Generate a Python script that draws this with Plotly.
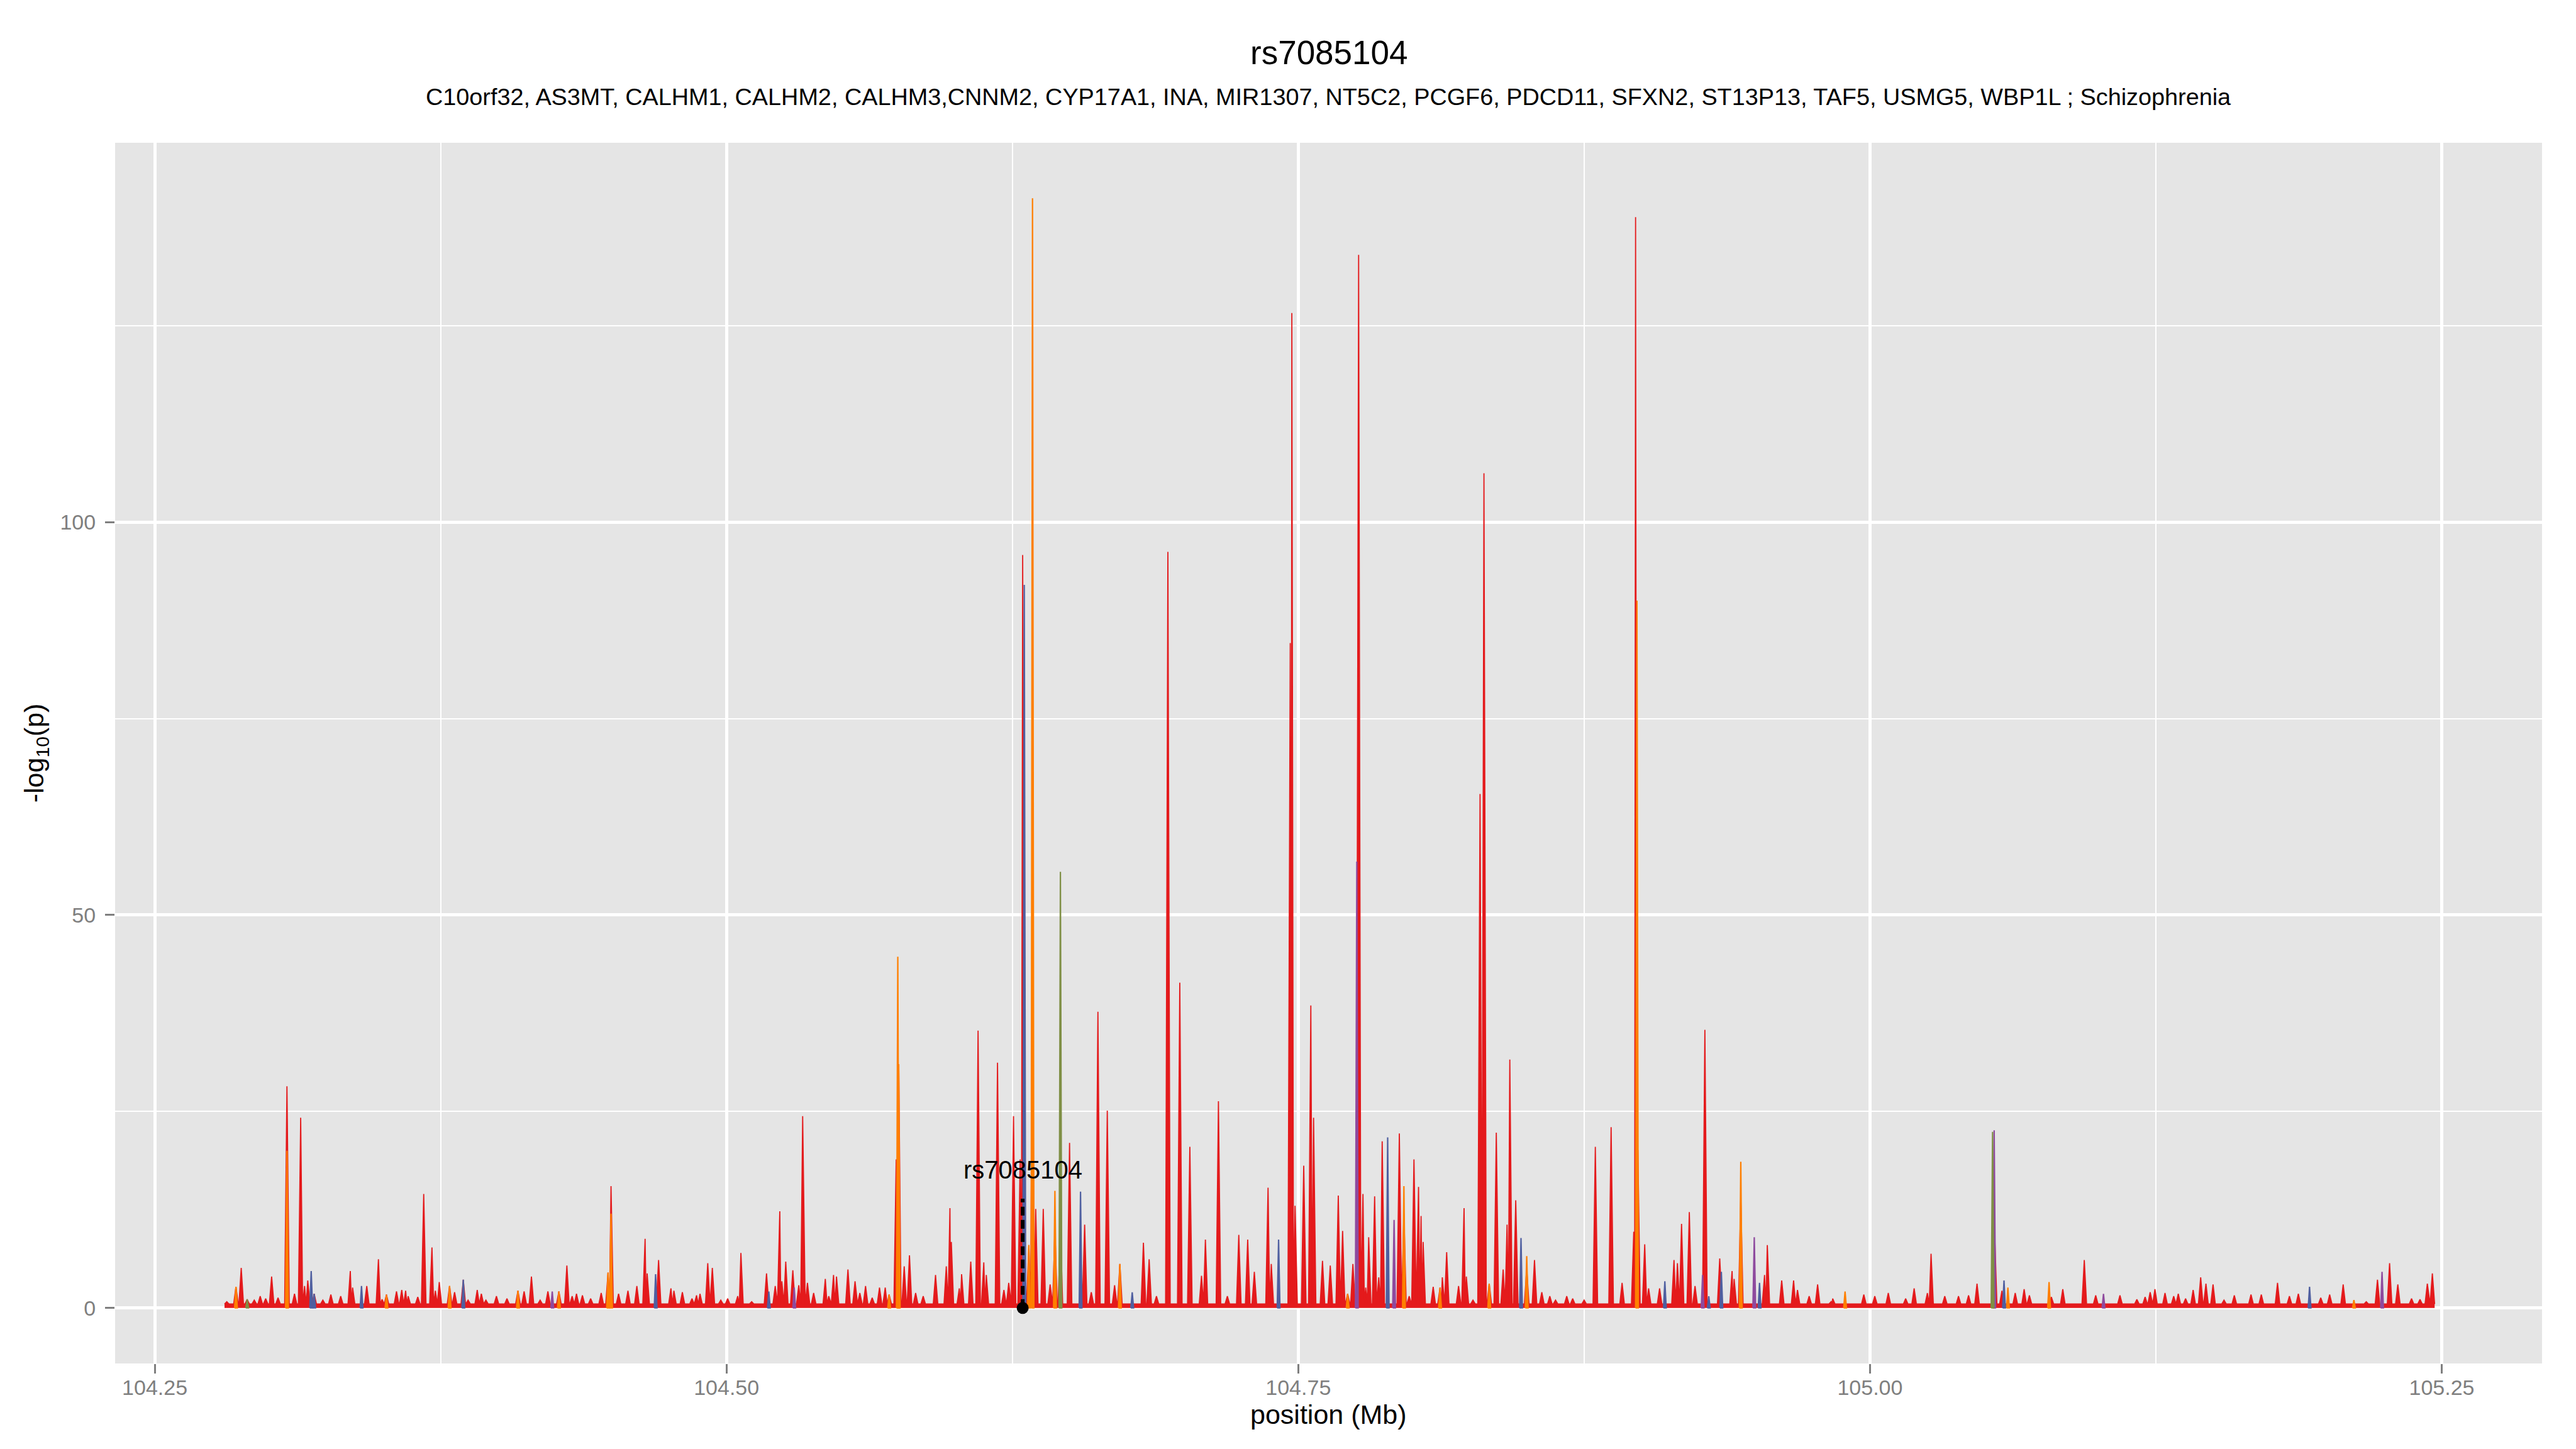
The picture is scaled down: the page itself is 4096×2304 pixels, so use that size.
import plotly.graph_objects as go

# ---------------- data ----------------
# Position (Mb) and -log10(p) of SNP peaks drawn in the main (red) series
red_pos = [
    104.2815, 104.2855, 104.2878, 104.2904, 104.2935, 104.2961, 104.2985, 104.3011, 104.3039, 104.3078,
    104.3111, 104.3138, 104.3155, 104.3169, 104.3197, 104.3235, 104.3270, 104.3313, 104.3355, 104.3365,
    104.3427, 104.3478, 104.3494, 104.3513, 104.3557, 104.3580, 104.3597, 104.3608, 104.3650, 104.3676,
    104.3712, 104.3727, 104.3744, 104.3789, 104.3811, 104.3849, 104.3870, 104.3910, 104.3928, 104.3948,
    104.3994, 104.4040, 104.4088, 104.4115, 104.4147, 104.4185, 104.4219, 104.4267, 104.4302, 104.4325,
    104.4344, 104.4370, 104.4406, 104.4452, 104.4482, 104.4495, 104.4528, 104.4569, 104.4608, 104.4644,
    104.4653, 104.4703, 104.4757, 104.4770, 104.4807, 104.4849, 104.4869, 104.4884, 104.4918, 104.4938,
    104.4975, 104.5005, 104.5049, 104.5063, 104.5110, 104.5175, 104.5213, 104.5233, 104.5242, 104.5259,
    104.5290, 104.5316, 104.5333, 104.5354, 104.5381, 104.5432, 104.5447, 104.5468, 104.5481, 104.5531,
    104.5562, 104.5583, 104.5608, 104.5637, 104.5669, 104.5694, 104.5711, 104.5742, 104.5749, 104.5753,
    104.5777, 104.5800, 104.5827, 104.5860, 104.5914, 104.5961, 104.5977, 104.5983, 104.6018, 104.6028,
    104.6068, 104.6100, 104.6125, 104.6136, 104.6185, 104.6213, 104.6234, 104.6255, 104.6284, 104.6295,
    104.6322, 104.6338, 104.6352, 104.6385, 104.6415, 104.6436, 104.6460, 104.6500, 104.6566, 104.6595,
    104.6624, 104.6665, 104.6697, 104.6720, 104.6823, 104.6848, 104.6880, 104.6930, 104.6982, 104.7026,
    104.7077, 104.7094, 104.7151, 104.7190, 104.7240, 104.7279, 104.7308, 104.7368, 104.7382, 104.7465,
    104.7472, 104.7486, 104.7524, 104.7555, 104.7567, 104.7606, 104.7640, 104.7675, 104.7694, 104.7716,
    104.7739, 104.7764, 104.7783, 104.7795, 104.7808, 104.7834, 104.7852, 104.7867, 104.7942, 104.7962,
    104.7985, 104.8006, 104.8026, 104.8037, 104.8046, 104.8090, 104.8120, 104.8130, 104.8149, 104.8201,
    104.8225, 104.8235, 104.8264, 104.8295, 104.8312, 104.8335, 104.8366, 104.8396, 104.8413, 104.8425,
    104.8451, 104.8499, 104.8533, 104.8565, 104.8600, 104.8625, 104.8674, 104.8700, 104.8750, 104.8799,
    104.8868, 104.8916, 104.8967, 104.8975, 104.8985, 104.9015, 104.9032, 104.9080, 104.9143, 104.9158,
    104.9176, 104.9210, 104.9235, 104.9278, 104.9343, 104.9397, 104.9406, 104.9435, 104.9539, 104.9551,
    104.9614, 104.9666, 104.9683, 104.9734, 104.9771, 104.9830, 104.9837, 104.9973, 105.0021, 105.0080,
    105.0156, 105.0193, 105.0251, 105.0267, 105.0327, 105.0387, 105.0431, 105.0468, 105.0545, 105.0577,
    105.0635, 105.0674, 105.0697, 105.0793, 105.0843, 105.0937, 105.0987, 105.1093, 105.1167, 105.1203,
    105.1225, 105.1246, 105.1290, 105.1328, 105.1348, 105.1380, 105.1413, 105.1446, 105.1469, 105.1500,
    105.1548, 105.1593, 105.1666, 105.1711, 105.1782, 105.1834, 105.1873, 105.1971, 105.2010, 105.2069,
    105.2170, 105.2219, 105.2272, 105.2308, 105.2368, 105.2405, 105.2437, 105.2459,
]
red_logp = [
    0.8, 2.7, 5.1, 1.1, 1.0, 1.5, 1.2, 4.0, 1.3, 28.2,
    1.8, 24.2, 2.8, 3.5, 1.8, 1.0, 1.7, 1.5, 4.7, 2.6,
    2.8, 6.2, 1.1, 1.7, 2.1, 2.3, 2.2, 1.5, 1.4, 14.5,
    7.7, 2.2, 3.3, 2.8, 2.0, 3.6, 1.0, 2.3, 1.8, 1.0,
    1.5, 1.2, 2.2, 2.1, 4.0, 1.0, 2.1, 2.1, 5.4, 1.5,
    1.8, 1.6, 1.2, 1.9, 4.5, 15.5, 1.8, 2.2, 2.8, 8.8,
    4.4, 6.1, 2.5, 2.2, 2.0, 1.2, 1.6, 1.8, 5.7, 5.1,
    1.0, 1.2, 1.5, 7.0, 0.8, 4.4, 2.8, 12.3, 3.4, 5.9,
    4.8, 2.9, 24.4, 3.2, 1.9, 3.7, 1.5, 4.2, 4.0, 4.9,
    3.4, 1.9, 2.8, 1.3, 2.6, 2.6, 1.7, 18.9, 28.0, 31.0,
    5.3, 6.7, 1.9, 1.5, 4.2, 5.3, 12.7, 8.4, 2.5, 4.3,
    5.9, 35.3, 5.8, 4.2, 31.2, 2.3, 3.2, 24.4, 18.9, 95.8,
    8.0, 45.0, 12.6, 12.6, 3.0, 10.0, 10.0, 21.0, 10.6, 2.0,
    37.7, 25.1, 2.9, 5.6, 8.3, 6.2, 1.5, 96.2, 41.4, 20.5,
    4.1, 8.7, 26.3, 1.5, 9.3, 8.7, 4.6, 15.3, 5.6, 84.6,
    126.6, 13.0, 18.1, 38.5, 24.2, 6.0, 5.4, 14.3, 9.8, 1.8,
    5.6, 134.0, 14.5, 2.6, 9.0, 14.2, 3.9, 21.2, 22.2, 12.0,
    1.5, 18.9, 15.4, 11.7, 8.4, 2.7, 2.6, 3.9, 7.1, 2.8,
    12.7, 4.0, 1.0, 65.4, 106.2, 3.1, 22.3, 4.9, 10.6, 31.6,
    13.7, 5.0, 6.1, 2.0, 1.5, 1.0, 1.5, 1.2, 1.0, 20.5,
    23.0, 3.2, 9.7, 138.8, 20.1, 8.1, 2.5, 2.5, 6.1, 5.7,
    10.7, 12.2, 2.8, 35.4, 6.3, 4.7, 3.7, 14.0, 4.2, 8.0,
    3.5, 3.5, 2.3, 1.5, 3.0, 0.8, 1.2, 1.7, 1.5, 1.9,
    1.2, 2.5, 1.9, 6.9, 1.5, 1.5, 1.6, 3.1, 9.6, 2.2,
    1.9, 2.4, 1.6, 1.4, 2.4, 6.1, 1.6, 1.6, 1.1, 1.4,
    2.0, 2.4, 1.9, 1.5, 1.8, 1.2, 2.3, 3.9, 3.1, 3.0,
    1.0, 1.6, 1.7, 1.7, 3.2, 1.5, 1.8, 1.3, 1.7, 3.0,
    0.8, 3.6, 5.7, 3.0, 1.2, 1.1, 3.1, 4.4,
]

# Series drawn on top of the red one
orange_pos = [104.2855, 104.3078, 104.3513, 104.3789, 104.4088, 104.4267, 104.4482, 104.4495, 104.5711,
              104.5749, 104.5753, 104.6322, 104.6338, 104.6436, 104.6720, 104.7716, 104.7962, 104.8120,
              104.8335, 104.8499, 104.8981, 104.9435, 104.9891, 105.0603, 105.0783, 105.2116]
orange_logp = [2.7, 20.0, 1.7, 2.8, 2.2, 2.1, 4.5, 12.0, 1.7,
               44.7, 31.0, 8.0, 141.2, 14.9, 5.6, 1.8, 15.5, 2.6,
               3.1, 6.6, 90.0, 18.6, 2.1, 2.6, 3.3, 1.0]

blue_pos = [104.3184, 104.3197, 104.3404, 104.3849, 104.4690, 104.5185, 104.6302, 104.6548, 104.6774,
            104.7414, 104.7891, 104.8474, 104.9103, 104.9295, 104.9350, 104.9517, 105.0586, 105.1922]
blue_logp = [4.7, 1.8, 2.8, 3.6, 4.3, 2.1, 92.0, 14.8, 2.0,
             8.7, 21.7, 8.9, 3.4, 1.5, 4.6, 3.2, 3.5, 2.7]

purple_pos = [104.4238, 104.5296, 104.7756, 104.7919, 104.9268, 104.9494, 105.0543, 105.1021, 105.2239]
purple_logp = [2.1, 2.6, 56.8, 11.2, 4.2, 9.0, 22.6, 1.8, 4.6]

green_pos = [104.2904, 104.6460, 105.0536]
green_logp = [1.1, 55.5, 22.4]

lead_snp = "rs7085104"
lead_pos = 104.6295

title_text = "rs7085104"
subtitle_text = ("C10orf32, AS3MT, CALHM1, CALHM2, CALHM3,CNNM2, CYP17A1, INA, MIR1307, NT5C2, "
                 "PCGF6, PDCD11, SFXN2, ST13P13, TAF5, USMG5, WBP1L ; Schizophrenia")

# ---------------- styling ----------------
FONT = "Liberation Sans, Arial, Helvetica, sans-serif"
RED = "#E41A1C"
HALF_W = 0.0010        # spike half width (Mb)
BASE = 0.5             # background level between spikes
OV_W = 0.0006


def spike_path(pos, vals, w, base):
    pts = sorted(zip(pos, vals))
    xs, ys = [pts[0][0] - w], [base]
    for i, (x, h) in enumerate(pts):
        xs.append(x)
        ys.append(h)
        if i + 1 < len(pts):
            nx = pts[i + 1][0]
            if nx - x > 2 * w:
                xs += [x + w, nx - w]
                ys += [base, base]
            else:
                xs.append((x + nx) / 2)
                ys.append(base)
    xs.append(pts[-1][0] + w)
    ys.append(base)
    return xs, ys


def triangles(pos, vals, w):
    xs, ys = [], []
    for x, h in zip(pos, vals):
        xs += [x - w, x, x + w, x - w, None]
        ys += [0, h, 0, 0, None]
    return xs, ys


fig = go.Figure()

rx, ry = spike_path(red_pos, red_logp, HALF_W, BASE)
fig.add_trace(go.Scatter(x=rx, y=ry, mode="lines", fill="tozeroy", fillcolor=RED,
                         line=dict(color=RED, width=1.8), hoverinfo="skip", showlegend=False))

for pos, vals, col in [(orange_pos, orange_logp, "#FF7F00"),
                       (blue_pos, blue_logp, "#4F5FA0"),
                       (purple_pos, purple_logp, "#8E4A9E"),
                       (green_pos, green_logp, "#7F8F45")]:
    tx, ty = triangles(pos, vals, OV_W)
    fig.add_trace(go.Scatter(x=tx, y=ty, mode="lines", fill="toself", fillcolor=col,
                             line=dict(color=col, width=2.2), hoverinfo="skip", showlegend=False))

# lead SNP marker with dashed stem
fig.add_trace(go.Scatter(x=[lead_pos, lead_pos], y=[0, 13.9], mode="lines",
                         line=dict(color="black", width=6, dash="14px,7px"),
                         hoverinfo="skip", showlegend=False))
fig.add_trace(go.Scatter(x=[lead_pos], y=[0], mode="markers",
                         marker=dict(color="black", size=19), hoverinfo="skip", showlegend=False))

fig.add_annotation(x=lead_pos, y=17.6, text=lead_snp, showarrow=False,
                   font=dict(family=FONT, size=40, color="black"), xanchor="center", yanchor="middle")

# titles
fig.add_annotation(x=0.5, y=1.0739, xref="paper", yref="paper", text=title_text, showarrow=False,
                   font=dict(family=FONT, size=53, color="black"), xanchor="center", yanchor="middle")
fig.add_annotation(x=0.5, y=1.0376, xref="paper", yref="paper", text=subtitle_text, showarrow=False,
                   font=dict(family=FONT, size=37.8, color="black"), xanchor="center", yanchor="middle")
# axis titles
fig.add_annotation(x=0.5, y=-0.0415, xref="paper", yref="paper", text="position (Mb)", showarrow=False,
                   font=dict(family=FONT, size=43, color="black"), xanchor="center", yanchor="middle")
fig.add_annotation(x=-0.0327, y=0.5, xref="paper", yref="paper", text="-log<sub>10</sub>(p)",
                   showarrow=False, textangle=-90,
                   font=dict(family=FONT, size=43, color="black"), xanchor="center", yanchor="middle")

axis_common = dict(showline=False, zeroline=False, ticks="outside", ticklen=15, tickwidth=3.4,
                   tickcolor="#7F7F7F", tickfont=dict(family=FONT, size=34, color="#7F7F7F"),
                   showgrid=True, gridcolor="white", gridwidth=4.5)

fig.update_layout(
    width=4096, height=2304,
    margin=dict(l=183, r=54, t=227, b=136),
    paper_bgcolor="white", plot_bgcolor="#E5E5E5",
    font=dict(family=FONT),
    xaxis=dict(range=[104.23265, 105.29386], tick0=104.25, dtick=0.25, tickformat=".2f",
               minor=dict(dtick=0.125, tick0=104.25, showgrid=True, gridcolor="white", gridwidth=2.2),
               ticklabelstandoff=-7, **axis_common),
    yaxis=dict(range=[-7.06, 148.26], tick0=0, dtick=50,
               minor=dict(dtick=25, tick0=0, showgrid=True, gridcolor="white", gridwidth=2.2),
               ticklabelstandoff=8, **axis_common),
    showlegend=False,
)

fig.write_html("out.html", config={"displayModeBar": False},
               post_script="document.body.style.margin='0px';document.body.style.padding='0px';")
